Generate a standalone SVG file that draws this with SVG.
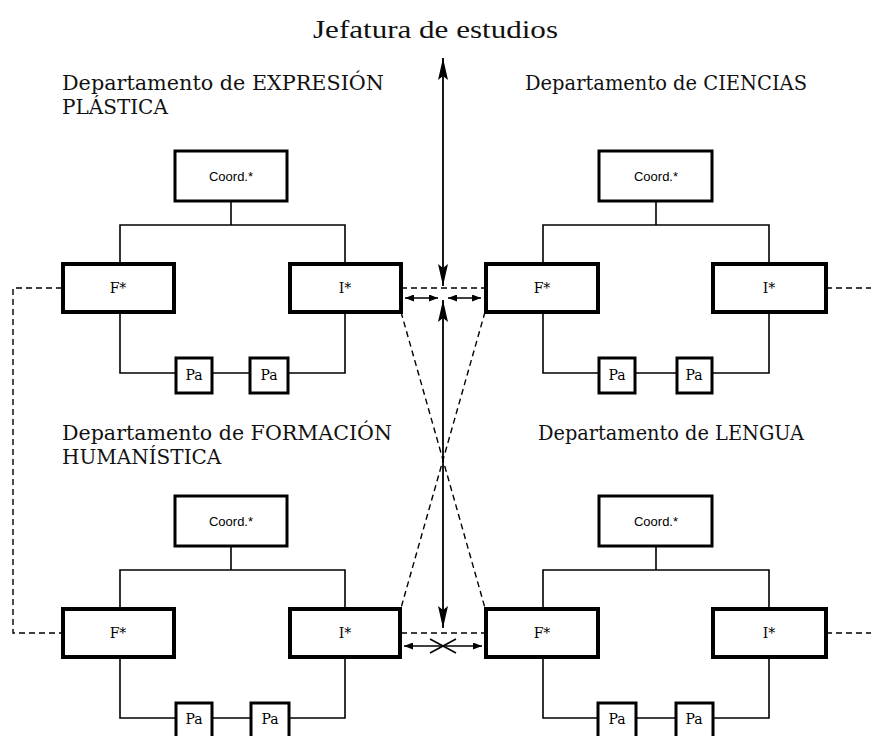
<svg xmlns="http://www.w3.org/2000/svg" width="871" height="736" viewBox="0 0 871 736">
<style>
.bg{fill:#fff}
.lbl{font-family:"DejaVu Serif","Liberation Serif",serif;font-size:20px;fill:#111}
.title{font-family:"Liberation Serif",serif;font-size:26px;fill:#111}
.big{fill:#fff;stroke:#000;stroke-width:4}
.crd{fill:#fff;stroke:#000;stroke-width:3}
.pa{fill:#fff;stroke:#000;stroke-width:3}
.t{font-family:"DejaVu Serif","Liberation Serif",serif;font-size:14px;fill:#000;text-anchor:middle}
.ts{font-family:"Liberation Sans",sans-serif;font-size:13px;fill:#000;text-anchor:middle}
.ln{fill:none;stroke:#000;stroke-width:1.6}
.dash{fill:none;stroke:#000;stroke-width:1.4;stroke-dasharray:6 4}
.arr{fill:none;stroke:#000;stroke-width:1.8}
</style>
<defs>
<marker id="bigHead" markerUnits="userSpaceOnUse" markerWidth="22" markerHeight="12" refX="22" refY="6" orient="auto-start-reverse">
<path d="M0,1 L22,6 L0,11 L4,6 z" fill="#000"/>
</marker>
<marker id="smHead" markerUnits="userSpaceOnUse" markerWidth="9" markerHeight="7" refX="9" refY="3.5" orient="auto-start-reverse">
<path d="M0,0 L9,3.5 L0,7 z" fill="#000"/>
</marker>
</defs>
<rect class="bg" x="0" y="0" width="871" height="736"/>

<text class="title" x="313" y="38" textLength="245" lengthAdjust="spacingAndGlyphs">Jefatura de estudios</text>

<g id="labels">
<text class="lbl" x="62" y="90" textLength="322" lengthAdjust="spacingAndGlyphs">Departamento de EXPRESIÓN</text>
<text class="lbl" x="62" y="114">PLÁSTICA</text>
<text class="lbl" x="525" y="90" textLength="282" lengthAdjust="spacingAndGlyphs">Departamento de CIENCIAS</text>
<text class="lbl" x="62" y="440" textLength="330" lengthAdjust="spacingAndGlyphs">Departamento de FORMACIÓN</text>
<text class="lbl" x="62" y="464">HUMANÍSTICA</text>
<text class="lbl" x="538" y="440" textLength="266" lengthAdjust="spacingAndGlyphs">Departamento de LENGUA</text>
</g>

<g id="connectors">
<path class="ln" d="M231,201 V225 M120,263 V225 H345 V263 M120,312 V373 H176 M212,373 H250 M288,373 H345 V312"/>
<path class="ln" d="M656,201 V225 M543,263 V225 H769 V263 M543,312 V373 H599 M635,373 H677 M712,373 H769 V312"/>
<path class="ln" d="M231,546 V570 M120,608 V570 H345 V608 M120,657 V718 H176 M212,718 H251 M289,718 H345 V657"/>
<path class="ln" d="M656,546 V570 M543,608 V570 H769 V608 M543,657 V718 H598 M636,718 H676 M713,718 H769 V657"/>

<path class="dash" d="M62,288 H13 V633 H62"/>
<path class="dash" d="M401,288 H485"/>
<path class="dash" d="M401,633 H485"/>
<path class="dash" d="M826,288 H871"/>
<path class="dash" d="M826,633 H871"/>
<path class="dash" d="M401,312 L485,608"/>
<path class="dash" d="M485,312 L401,608"/>

<line class="arr" x1="443" y1="58" x2="443" y2="286" marker-start="url(#bigHead)" marker-end="url(#bigHead)"/>
<line class="arr" x1="443" y1="300" x2="443" y2="628" marker-start="url(#bigHead)" marker-end="url(#bigHead)"/>

<line class="ln" x1="405" y1="298" x2="438" y2="298" marker-start="url(#smHead)" marker-end="url(#smHead)"/>
<line class="ln" x1="448" y1="298" x2="481" y2="298" marker-start="url(#smHead)" marker-end="url(#smHead)"/>
<line class="ln" x1="404" y1="646" x2="482" y2="646" marker-start="url(#smHead)" marker-end="url(#smHead)"/>
<path class="ln" d="M430,639 L456,653 M430,653 L456,639"/>
</g>

<g id="tl-coord"><rect class="crd" x="175" y="151" width="112" height="50"/><text class="ts" x="231" y="181">Coord.*</text></g>
<g id="tl-F"><rect class="big" x="63" y="264" width="111" height="48"/><text class="t" x="118" y="293">F*</text></g>
<g id="tl-I"><rect class="big" x="290" y="264" width="111" height="48"/><text class="t" x="345" y="293">I*</text></g>
<g id="tl-pa1"><rect class="pa" x="176" y="358" width="36" height="35"/><text class="t" x="194" y="380">Pa</text></g>
<g id="tl-pa2"><rect class="pa" x="250" y="358" width="38" height="35"/><text class="t" x="269" y="380">Pa</text></g>

<g id="tr-coord"><rect class="crd" x="599" y="151" width="113" height="50"/><text class="ts" x="656" y="181">Coord.*</text></g>
<g id="tr-F"><rect class="big" x="486" y="264" width="112" height="48"/><text class="t" x="542" y="293">F*</text></g>
<g id="tr-I"><rect class="big" x="713" y="264" width="113" height="48"/><text class="t" x="769" y="293">I*</text></g>
<g id="tr-pa1"><rect class="pa" x="599" y="358" width="36" height="35"/><text class="t" x="617" y="380">Pa</text></g>
<g id="tr-pa2"><rect class="pa" x="677" y="358" width="35" height="35"/><text class="t" x="694" y="380">Pa</text></g>

<g id="bl-coord"><rect class="crd" x="175" y="496" width="112" height="50"/><text class="ts" x="231" y="526">Coord.*</text></g>
<g id="bl-F"><rect class="big" x="63" y="609" width="111" height="48"/><text class="t" x="118" y="638">F*</text></g>
<g id="bl-I"><rect class="big" x="290" y="609" width="110" height="48"/><text class="t" x="345" y="638">I*</text></g>
<g id="bl-pa1"><rect class="pa" x="176" y="703" width="36" height="35"/><text class="t" x="194" y="724">Pa</text></g>
<g id="bl-pa2"><rect class="pa" x="251" y="703" width="38" height="35"/><text class="t" x="270" y="724">Pa</text></g>

<g id="br-coord"><rect class="crd" x="599" y="496" width="113" height="50"/><text class="ts" x="656" y="526">Coord.*</text></g>
<g id="br-F"><rect class="big" x="486" y="609" width="112" height="48"/><text class="t" x="542" y="638">F*</text></g>
<g id="br-I"><rect class="big" x="713" y="609" width="113" height="48"/><text class="t" x="769" y="638">I*</text></g>
<g id="br-pa1"><rect class="pa" x="598" y="703" width="38" height="35"/><text class="t" x="617" y="724">Pa</text></g>
<g id="br-pa2"><rect class="pa" x="676" y="703" width="37" height="35"/><text class="t" x="694" y="724">Pa</text></g>
</svg>
